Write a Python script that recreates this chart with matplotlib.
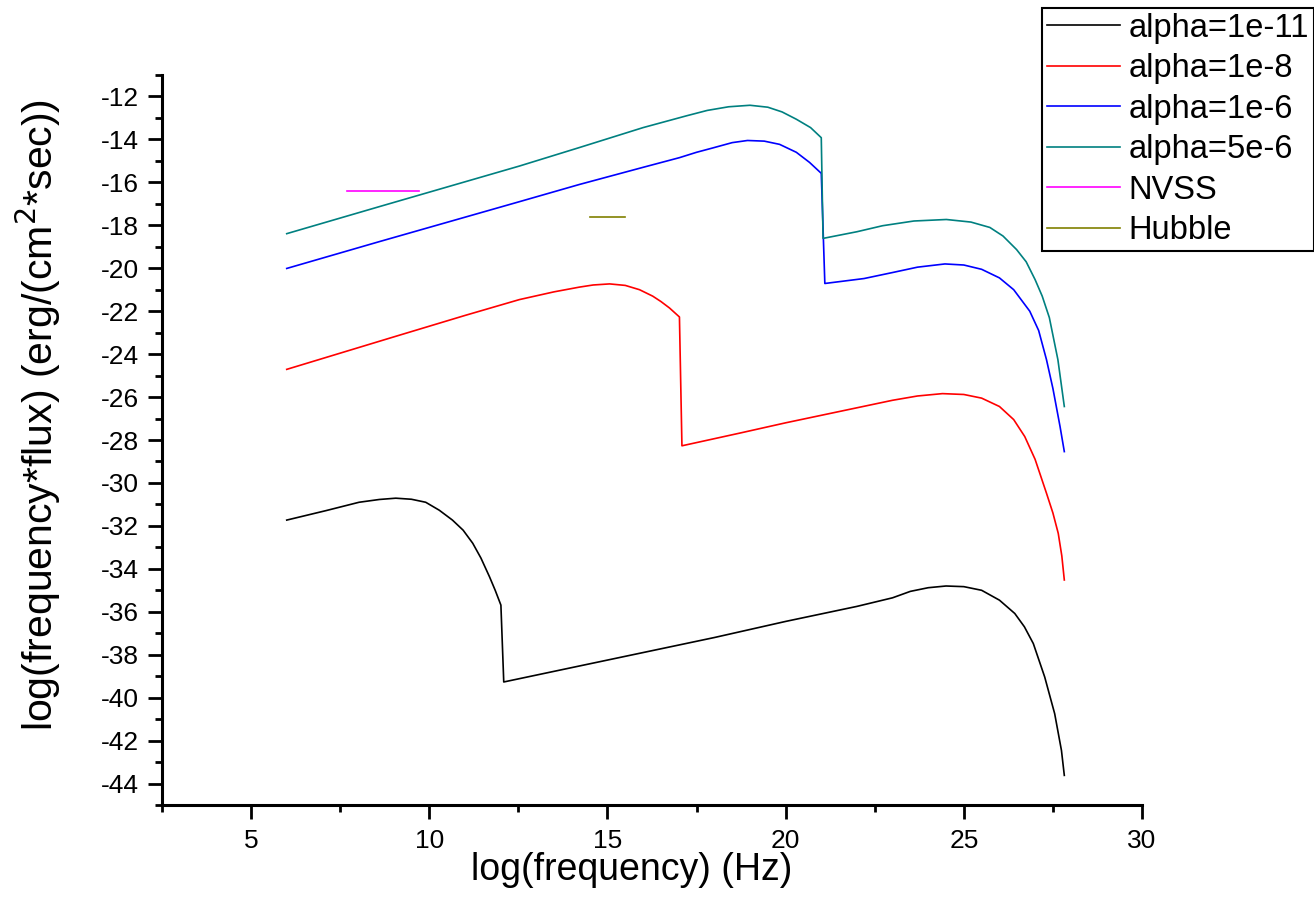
import matplotlib
matplotlib.use("Agg")
import matplotlib.pyplot as plt
from matplotlib.ticker import MultipleLocator

plt.rcParams['font.family'] = ['Liberation Sans', 'DejaVu Sans']
plt.rcParams['axes.unicode_minus'] = False

# alpha = 1e-11 (black)
x_a11 = [6.0, 7.1, 8.03, 8.6, 9.06, 9.5, 9.9, 10.28, 10.65, 10.95, 11.22, 11.45, 11.69, 11.85, 12.01, 12.09,
         14.0, 16.0, 18.0, 20.0, 21.0, 22.0, 23.0, 23.5, 24.0, 24.5, 25.0, 25.5, 26.0, 26.43, 26.7, 26.95, 27.27, 27.55, 27.74, 27.82]
y_a11 = [-31.73, -31.29, -30.9, -30.77, -30.71, -30.76, -30.9, -31.27, -31.73, -32.2, -32.81, -33.5, -34.37, -35.0, -35.69, -39.27,
         -38.6, -37.9, -37.2, -36.45, -36.1, -35.75, -35.35, -35.05, -34.88, -34.8, -34.83, -35.0, -35.46, -36.08, -36.7, -37.48, -39.04, -40.75, -42.46, -43.62]

# alpha = 1e-8 (red)
x_a8 = [6.0, 9.0, 11.0, 12.53, 13.5, 14.21, 14.6, 15.06, 15.5, 15.9, 16.27, 16.5, 16.74, 17.02, 17.09,
        18.71, 20.0, 21.0, 22.0, 23.0, 23.7, 24.4, 25.0, 25.5, 26.0, 26.4, 26.71, 27.0, 27.32, 27.5, 27.65, 27.75, 27.82]
y_a8 = [-24.71, -23.2, -22.2, -21.46, -21.1, -20.88, -20.78, -20.73, -20.8, -21.0, -21.3, -21.55, -21.85, -22.27, -28.27,
        -27.68, -27.2, -26.85, -26.5, -26.15, -25.95, -25.84, -25.88, -26.05, -26.44, -27.05, -27.84, -28.9, -30.48, -31.4, -32.35, -33.4, -34.52]

# alpha = 1e-6 (blue)
x_a6 = [6.0, 8.6, 12.53, 14.21, 16.0, 17.02, 17.5, 17.95, 18.5, 18.93, 19.4, 19.83, 20.3, 20.67, 21.0, 21.1,
        22.2, 23.0, 23.7, 24.47, 25.0, 25.5, 26.0, 26.4, 26.85, 27.1, 27.32, 27.5, 27.7, 27.82]
y_a6 = [-20.01, -18.76, -16.9, -16.1, -15.3, -14.85, -14.6, -14.4, -14.15, -14.05, -14.08, -14.23, -14.6, -15.07, -15.58, -20.71,
        -20.48, -20.2, -19.95, -19.8, -19.85, -20.05, -20.45, -21.0, -22.0, -22.9, -24.26, -25.6, -27.37, -28.54]

# alpha = 5e-6 (teal)
x_a56 = [6.0, 8.6, 12.53, 14.21, 16.0, 17.22, 17.8, 18.4, 19.0, 19.5, 19.9, 20.3, 20.7, 21.0, 21.05,
         22.0, 22.72, 23.6, 24.51, 25.2, 25.73, 26.1, 26.48, 26.75, 27.0, 27.2, 27.4, 27.64, 27.82]
y_a56 = [-18.39, -17.13, -15.24, -14.38, -13.45, -12.9, -12.65, -12.48, -12.41, -12.5, -12.72, -13.06, -13.45, -13.92, -18.61,
         -18.3, -18.02, -17.8, -17.73, -17.85, -18.1, -18.5, -19.13, -19.7, -20.53, -21.3, -22.3, -24.26, -26.44]

# observations
x_nvss = [7.69, 9.70]
y_nvss = [-16.39, -16.39]
x_hubble = [14.51, 15.5]
y_hubble = [-17.62, -17.62]

labels = ["alpha=1e-11", "alpha=1e-8", "alpha=1e-6", "alpha=5e-6", "NVSS", "Hubble"]
colors = ["#000000", "#FF0000", "#0000FF", "#008080", "#FF00FF", "#808000"]

fig = plt.figure(figsize=(13.14, 9.13), dpi=100)
ax = fig.add_axes([162/1314, 1-805/913, (1142-162)/1314, (805-75)/913])

series = [(x_a11, y_a11), (x_a8, y_a8), (x_a6, y_a6), (x_a56, y_a56), (x_nvss, y_nvss), (x_hubble, y_hubble)]
for (xs, ys), lab, c in zip(series, labels, colors):
    ax.plot(xs, ys, color=c, lw=1.2, label=lab)

ax.set_xlim(2.5, 30)
ax.set_ylim(-45, -11)
ax.xaxis.set_major_locator(MultipleLocator(5))
ax.xaxis.set_minor_locator(MultipleLocator(2.5))
ax.yaxis.set_major_locator(MultipleLocator(2))
ax.yaxis.set_minor_locator(MultipleLocator(1))
for s in ['top', 'right']:
    ax.spines[s].set_visible(False)
for s in ['left', 'bottom']:
    ax.spines[s].set_linewidth(2.2)
ax.tick_params(which='major', direction='out', length=10, width=2.0, labelsize=19)
ax.tick_params(which='minor', direction='out', length=5, width=2.0)
ax.tick_params(axis='y', which='major', pad=6.5)
ax.tick_params(axis='x', which='major', pad=7)

ax.set_xlabel("log(frequency) (Hz)", fontsize=27, va='center', ha='center')
ax.xaxis.set_label_coords((632-162)/980, (805-870)/730)
ax.set_ylabel("log(frequency*flux) (erg/(cm$^2$*sec))", fontsize=29.5, va='center', ha='center')
ax.yaxis.set_label_coords((38-162)/980, (805-415)/730)

leg = fig.legend(loc='upper right', bbox_to_anchor=(1314/1314, 1-8/913), bbox_transform=fig.transFigure,
                 borderaxespad=0, fontsize=23.5, frameon=True, fancybox=False, framealpha=1,
                 edgecolor='black', handlelength=2.24, handletextpad=0.25, labelspacing=0.29, borderpad=0.15)
leg.get_frame().set_linewidth(1.5)

fig.savefig("out.png", dpi=100)
